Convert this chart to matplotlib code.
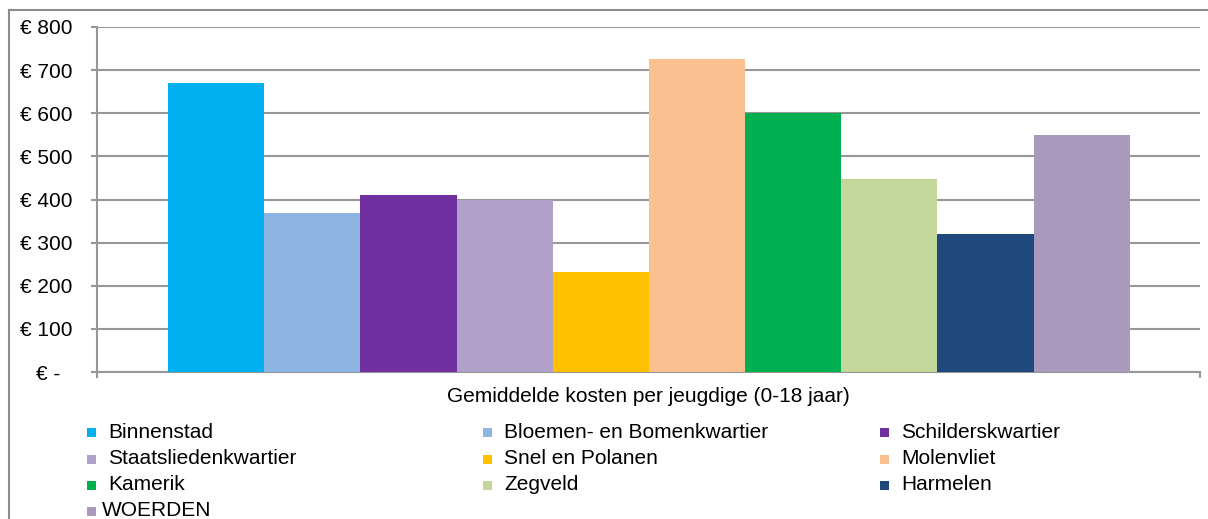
import matplotlib.pyplot as plt
from matplotlib.lines import Line2D
from matplotlib.patches import Rectangle
from matplotlib.transforms import ScaledTranslation

plt.rcParams['font.family'] = ['Liberation Sans', 'DejaVu Sans']

wijken = ["Binnenstad", "Bloemen- en Bomenkwartier", "Schilderskwartier",
          "Staatsliedenkwartier", "Snel en Polanen", "Molenvliet",
          "Kamerik", "Zegveld", "Harmelen", "WOERDEN"]
kosten = [670, 369, 411, 400, 232, 726, 600, 448, 320, 550]
kleuren = ["#00B0F0", "#8EB4E3", "#7030A0", "#B1A0C7", "#FFC000",
           "#FAC090", "#00B050", "#C4D79B", "#1F497D", "#A99ABD"]
y_ticks = [0, 100, 200, 300, 400, 500, 600, 700, 800]
y_labels = ["€ -", "€ 100", "€ 200", "€ 300", "€ 400", "€ 500", "€ 600", "€ 700", "€ 800"]
x_label = "Gemiddelde kosten per jeugdige (0-18 jaar)"

W, H = 1208, 519
fig = plt.figure(figsize=(W / 100, H / 100), dpi=100)
fig.patch.set_facecolor("white")

# axes placed in pixel terms
left, right, top, bottom = 97, 1200, 27, 372
ax = fig.add_axes([left / W, 1 - bottom / H, (right - left) / W, (bottom - top) / H])

grid_col = "#979797"
bar_w = 0.0872
start = 0.0644
for i, (naam, val, kl) in enumerate(zip(wijken, kosten, kleuren)):
    ax.bar(start + i * bar_w, val, width=bar_w, align="edge", color=kl,
           linewidth=0, zorder=3)

ax.set_xlim(0, 1)
ax.set_ylim(0, 800)
ax.set_yticks(y_ticks)
ax.set_yticklabels(y_labels, fontsize=15)
ax.set_xticks([0, 1])
ax.set_xticklabels(["", ""])
ax.yaxis.grid(True, color=grid_col, linewidth=1.5, zorder=0)
ax.set_axisbelow(True)
for s in ["top", "right"]:
    ax.spines[s].set_visible(False)
for s in ["left", "bottom"]:
    ax.spines[s].set_color(grid_col)
    ax.spines[s].set_linewidth(1.5)
ax.tick_params(axis="y", length=4.3, width=1.5, color=grid_col, pad=13.5)
ax.tick_params(axis="x", length=4.3, width=1.5, color=grid_col)

# zero label sits a bit further left (accounting format)
zero_lbl = ax.get_yticklabels()[0]
zero_lbl.set_transform(zero_lbl.get_transform() + ScaledTranslation(-12 / 100, 0, fig.dpi_scale_trans))

fig.text(648 / W, 1 - 397 / H, x_label, fontsize=15, ha="center", va="center")

# legend, row-major in 3 columns
col_x = [91, 487, 884]
row_y = [432, 459, 485, 511]
for i, (naam, kl) in enumerate(zip(wijken, kleuren)):
    r, c = divmod(i, 3)
    cx, cy = col_x[c], row_y[r]
    fig.add_artist(Rectangle(((cx - 4.5) / W, 1 - (cy + 4.5) / H), 9 / W, 9 / H,
                             transform=fig.transFigure, color=kl, linewidth=0))
    tx = cx + 17 if naam != "WOERDEN" else cx + 11
    fig.text(tx / W, 1 - cy / H, naam, fontsize=15, ha="left", va="center")

# outer chart frame (cropped at right and bottom)
frame_col = "#8C8C8C"
fig.add_artist(Line2D([9 / W, 9 / W], [-0.1, 1 - 10 / H], transform=fig.transFigure,
                      color=frame_col, linewidth=1.5))
fig.add_artist(Line2D([9 / W, 1.1], [1 - 10 / H, 1 - 10 / H], transform=fig.transFigure,
                      color=frame_col, linewidth=1.5))

fig.savefig("out.png", dpi=100)
